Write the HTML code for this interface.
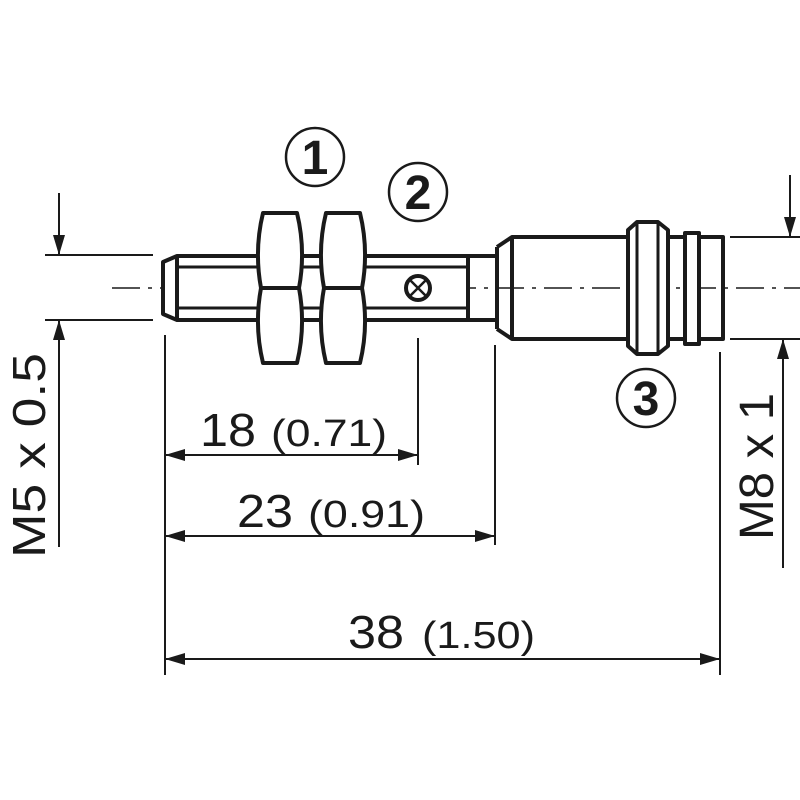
<!DOCTYPE html>
<html><head><meta charset="utf-8"><style>html,body{margin:0;padding:0;background:#fff}svg{display:block}</style></head>
<body>
<svg width="800" height="800" viewBox="0 0 800 800" xmlns="http://www.w3.org/2000/svg">
<defs>
<marker id="a" viewBox="0 0 20 12" refX="20" refY="6" markerWidth="20" markerHeight="12" markerUnits="userSpaceOnUse" orient="auto-start-reverse"><path d="M0,0 L20,6 L0,12 Z" fill="#1a1a1a"/></marker>
</defs>
<g stroke="#1a1a1a" fill="none">
<line x1="112" y1="288" x2="800" y2="288" stroke-width="1.6" stroke-dasharray="28,8,4,8"/>
<g stroke-width="4" stroke-linejoin="round">
<path d="M163,262 L177,256 L468,256 L468,320 L177,320 L163,314 Z" fill="#fff"/>
<line x1="177" y1="256" x2="177" y2="320"/>
<line x1="177" y1="267" x2="468" y2="267" stroke-width="3"/>
<line x1="177" y1="308" x2="468" y2="308" stroke-width="3"/>
<path d="M468,256 L497,256 M468,320 L497,320"/>
<path d="M263,213 L297,213 Q306,250 299,288 Q306,326 297,363 L263,363 Q254,326 261,288 Q254,250 263,213 Z" fill="#fff"/>
<line x1="261" y1="288" x2="299" y2="288"/>
<path d="M326,213 L360,213 Q369,250 362,288 Q369,326 360,363 L326,363 Q317,326 324,288 Q317,250 326,213 Z" fill="#fff"/>
<line x1="324" y1="288" x2="362" y2="288"/>
<circle cx="418" cy="288" r="12" stroke-width="4" fill="#fff"/>
<path d="M410,280 L426,296 M426,280 L410,296" stroke-width="2.5"/>
<path d="M497,247 L512,237 L628,237 M497,329 L512,339 L628,339 M497,247 L497,329" />
<line x1="512" y1="237" x2="512" y2="339"/>
<path d="M628,230 L637,222 L658,222 L668,230 L668,346 L658,354 L637,354 L628,346 Z" fill="#fff"/>
<line x1="637" y1="222" x2="637" y2="354" stroke-width="3"/>
<line x1="658" y1="222" x2="658" y2="354" stroke-width="3"/>
<path d="M668,237 L723,237 L723,339 L668,339"/>
<rect x="685" y="233" width="14" height="111" fill="#fff"/>
</g>
<g stroke-width="2">
<line x1="45" y1="255" x2="153" y2="255"/>
<line x1="45" y1="320" x2="153" y2="320"/>
<line x1="59" y1="193" x2="59" y2="255" marker-end="url(#a)"/>
<line x1="59" y1="547" x2="59" y2="320" marker-end="url(#a)"/>
<line x1="730" y1="237" x2="800" y2="237"/>
<line x1="730" y1="339" x2="800" y2="339"/>
<line x1="790" y1="175" x2="790" y2="237" marker-end="url(#a)"/>
<line x1="783" y1="568" x2="783" y2="339" marker-end="url(#a)"/>
<line x1="165" y1="335" x2="165" y2="675"/>
<line x1="418" y1="338" x2="418" y2="465"/>
<line x1="495" y1="345" x2="495" y2="545"/>
<line x1="720" y1="352" x2="720" y2="675"/>
<line x1="165" y1="455" x2="418" y2="455" marker-start="url(#a)" marker-end="url(#a)"/>
<line x1="165" y1="536" x2="495" y2="536" marker-start="url(#a)" marker-end="url(#a)"/>
<line x1="165" y1="659" x2="720" y2="659" marker-start="url(#a)" marker-end="url(#a)"/>
</g>
<g stroke-width="2.5">
<circle cx="315" cy="157" r="29"/>
<circle cx="418" cy="192" r="29"/>
<circle cx="646" cy="398" r="29"/>
</g>
</g>
<g fill="#1a1a1a" font-family="Liberation Sans, sans-serif">
<g font-size="48" font-weight="bold" text-anchor="middle">
<text x="315" y="174">1</text>
<text x="418" y="209">2</text>
<text x="646" y="415">3</text>
</g>
<text x="200" y="446" font-size="46" textLength="56" lengthAdjust="spacingAndGlyphs">18</text>
<text x="271" y="446" font-size="38" textLength="116" lengthAdjust="spacingAndGlyphs">(0.71)</text>
<text x="237" y="527" font-size="46" textLength="56" lengthAdjust="spacingAndGlyphs">23</text>
<text x="308" y="527" font-size="38" textLength="117" lengthAdjust="spacingAndGlyphs">(0.91)</text>
<text x="348" y="648" font-size="46" textLength="56" lengthAdjust="spacingAndGlyphs">38</text>
<text x="422" y="648" font-size="38" textLength="113" lengthAdjust="spacingAndGlyphs">(1.50)</text>
<text transform="translate(45,558) rotate(-90)" font-size="46" textLength="205" lengthAdjust="spacingAndGlyphs">M5 x 0.5</text>
<text transform="translate(773,540) rotate(-90)" font-size="48" textLength="147" lengthAdjust="spacingAndGlyphs">M8 x 1</text>
</g>
</svg>
</body></html>
